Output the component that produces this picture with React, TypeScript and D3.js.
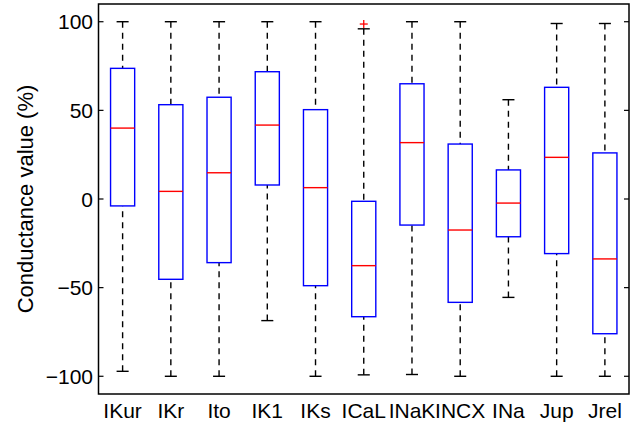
import React from "react";
import * as d3 from "d3";

const categories = ["IKur", "IKr", "Ito", "IK1", "IKs", "ICaL", "INaK", "INCX", "INa", "Jup", "Jrel"];
const whiskerHigh = [100, 100, 100, 100, 100, 96, 100, 100, 56, 99, 99];
const q3 = [73.7, 53.2, 57.4, 71.8, 50.4, -1.3, 65, 31, 16.4, 63, 26];
const median = [40, 4.3, 14.8, 41.7, 6.4, -37.6, 31.8, -17.5, -2.3, 23.5, -33.8];
const q1 = [-3.9, -45.3, -35.9, 7.9, -48.9, -66.4, -14.7, -58.3, -21.3, -30.8, -76];
const whiskerLow = [-97.2, -100, -100, -68.6, -100, -99.2, -99, -100, -55.5, -100, -100];
const outliers: [number, number][] = [[5, 98.7]];
const yTicks = [-100, -50, 0, 50, 100];

const W = 634, H = 423;
const left = 98.5, right = 629, top = 4, bottom = 394;

export default function App() {
  const x = d3.scaleLinear().domain([0.5, categories.length + 0.5]).range([left, right]);
  const y = d3.scaleLinear().domain([-110, 110]).range([bottom, top]);
  const bw = x(1.25) - x(1);
  const cw = x(1.125) - x(1);
  const font = "Arial, 'Liberation Sans', Helvetica, sans-serif";
  const fs = 21;
  return (
    <svg width={W} height={H} style={{ position: "absolute", left: 0, top: 0 }}>
      <rect x={0} y={0} width={W} height={H} fill="#fff" />
      {categories.map((c, i) => {
        const cx = x(i + 1);
        return (
          <g key={c}>
            <line x1={cx} x2={cx} y1={y(whiskerHigh[i])} y2={y(q3[i])} stroke="#000" strokeWidth={1.4} strokeDasharray="6,5" />
            <line x1={cx} x2={cx} y1={y(whiskerLow[i])} y2={y(q1[i])} stroke="#000" strokeWidth={1.4} strokeDasharray="6,5" />
            <line x1={cx - cw} x2={cx + cw} y1={y(whiskerHigh[i])} y2={y(whiskerHigh[i])} stroke="#000" strokeWidth={1.4} />
            <line x1={cx - cw} x2={cx + cw} y1={y(whiskerLow[i])} y2={y(whiskerLow[i])} stroke="#000" strokeWidth={1.4} />
            <rect x={cx - bw} y={y(q3[i])} width={2 * bw} height={y(q1[i]) - y(q3[i])} fill="none" stroke="#0000ff" strokeWidth={1.4} />
            <line x1={cx - bw} x2={cx + bw} y1={y(median[i])} y2={y(median[i])} stroke="#ff0000" strokeWidth={1.4} />
            <text x={cx} y={bottom + 24} textAnchor="middle" fontFamily={font} fontSize={fs} fill="#000">{c}</text>
          </g>
        );
      })}
      {outliers.map(([i, v], k) => (
        <g key={k} stroke="#ff0000" strokeWidth={1.3}>
          <line x1={x(i + 1) - 4} x2={x(i + 1) + 4} y1={y(v)} y2={y(v)} />
          <line x1={x(i + 1)} x2={x(i + 1)} y1={y(v) - 4} y2={y(v) + 4} />
        </g>
      ))}
      {yTicks.map((t) => (
        <g key={t}>
          <line x1={left} x2={left + 5} y1={y(t)} y2={y(t)} stroke="#000" strokeWidth={1.2} />
          <line x1={right - 5} x2={right} y1={y(t)} y2={y(t)} stroke="#000" strokeWidth={1.2} />
          <text x={left - 5.5} y={y(t) + 7.5} textAnchor="end" fontFamily={font} fontSize={fs} fill="#000">
            {t < 0 ? "\u2212" + Math.abs(t) : String(t)}
          </text>
        </g>
      ))}
      <rect x={left} y={top} width={right - left} height={bottom - top} fill="none" stroke="#000" strokeWidth={1.5} />
      <text transform={`translate(33,${(top + bottom) / 2}) rotate(-90)`} textAnchor="middle" fontFamily={font} fontSize={22} fill="#000">
        Conductance value (%)
      </text>
    </svg>
  );
}
